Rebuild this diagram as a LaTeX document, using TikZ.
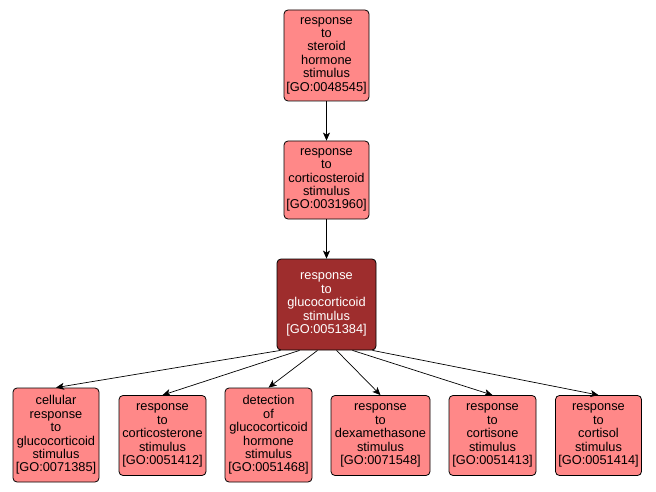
\documentclass[tikz,border=0pt]{standalone}
\usepackage{fontspec}
\setmainfont{Liberation Sans}
\usetikzlibrary{arrows.meta}
\definecolor{golight}{HTML}{FF8888}
\definecolor{godark}{HTML}{9E2D2D}
\tikzset{
    goterm/.style={draw=black, line width=0.8pt, rounded corners=4pt, fill=golight,
        align=center, inner sep=0pt, font=\fontsize{12.8}{13.4}\selectfont},
    gohit/.style={goterm, fill=godark, text=white},
    isa/.style={-{Stealth[length=8pt,width=7pt,inset=2pt]}, line width=0.7pt}
}
\begin{document}
\begin{tikzpicture}[x=1pt, y=-1pt]
    \useasboundingbox (0, 0) rectangle (656, 492);

    \node[goterm, minimum width=85pt, minimum height=91pt] (steroid) at (326.5, 55.5)
        {response\\to\\steroid\\hormone\\stimulus\\{[GO:0048545]}};
    \node[goterm, minimum width=85pt, minimum height=78pt] (corticosteroid) at (326.5, 180)
        {response\\to\\corticosteroid\\stimulus\\{[GO:0031960]}};
    \node[gohit, minimum width=99pt, minimum height=91pt] (glucocorticoid) at (326.5, 304.5)
        {response\\to\\glucocorticoid\\stimulus\\{[GO:0051384]}};

    \node[goterm, minimum width=86pt, minimum height=94pt] (cellular) at (56, 435)
        {cellular\\response\\to\\glucocorticoid\\stimulus\\{[GO:0071385]}};
    \node[goterm, minimum width=87pt, minimum height=80pt] (corticosterone) at (162.5, 435.5)
        {response\\to\\corticosterone\\stimulus\\{[GO:0051412]}};
    \node[goterm, minimum width=87pt, minimum height=94pt] (detection) at (268.5, 435)
        {detection\\of\\glucocorticoid\\hormone\\stimulus\\{[GO:0051468]}};
    \node[goterm, minimum width=99pt, minimum height=80pt] (dexamethasone) at (380.5, 435.5)
        {response\\to\\dexamethasone\\stimulus\\{[GO:0071548]}};
    \node[goterm, minimum width=87pt, minimum height=80pt] (cortisone) at (492.5, 435.5)
        {response\\to\\cortisone\\stimulus\\{[GO:0051413]}};
    \node[goterm, minimum width=86pt, minimum height=80pt] (cortisol) at (598.5, 435.5)
        {response\\to\\cortisol\\stimulus\\{[GO:0051414]}};

    \draw[isa] (steroid) -- (corticosteroid);
    \draw[isa] (corticosteroid) -- (glucocorticoid);

    \draw[isa] ([xshift=-46pt]glucocorticoid.south) -- (cellular.north);
    \draw[isa] ([xshift=-27pt]glucocorticoid.south) -- (corticosterone.north);
    \draw[isa] ([xshift=-9pt]glucocorticoid.south) -- (detection.north);
    \draw[isa] ([xshift=10pt]glucocorticoid.south) -- (dexamethasone.north);
    \draw[isa] ([xshift=26pt]glucocorticoid.south) -- (cortisone.north);
    \draw[isa] ([xshift=46pt]glucocorticoid.south) -- (cortisol.north);
\end{tikzpicture}
\end{document}
